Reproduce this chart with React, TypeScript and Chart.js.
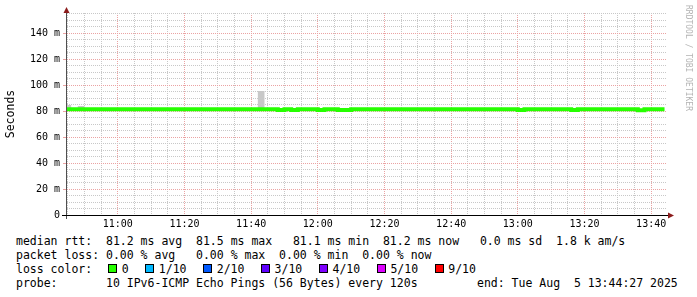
import React, { useEffect, useRef } from "react";
import { Chart, registerables } from "chart.js";

Chart.register(...registerables);

const FONT = "'DejaVu Sans Mono', monospace";

// ---- time axis (minutes since midnight) ----
const VIEW_START_MIN = 10 * 60 + 44 + 27 / 60; // 10:44:27
const VIEW_END_MIN = 13 * 60 + 44 + 27 / 60; // 13:44:27
const FIRST_STEP_MIN = 10 * 60 + 44; // first 2-minute interval starts 10:44
const STEP_MIN = 2;

const xGridMinutes = [
  645, 650, 655, 660, 665, 670, 675, 680, 685, 690, 695, 700, 705, 710, 715, 720, 725, 730,
  735, 740, 745, 750, 755, 760, 765, 770, 775, 780, 785, 790, 795, 800, 805, 810, 815, 820,
];
const xLabelMinutes = [660, 680, 700, 720, 740, 760, 780, 800, 820];

// ---- value axis (milliseconds) ----
const Y_MAX = 155.4;
const yGridValues = [
  0, 5, 10, 15, 20, 25, 30, 35, 40, 45, 50, 55, 60, 65, 70, 75, 80, 85, 90, 95, 100, 105,
  110, 115, 120, 125, 130, 135, 140, 145, 150, 155,
];
const yLabelValues = [0, 20, 40, 60, 80, 100, 120, 140];

// ---- series (one value per 2-minute interval, 10:44 .. 13:42) ----
const medianRtt = [
  81.4, 81.4, 81.4, 81.4, 81.4, 81.4, 81.4, 81.4, 81.4, 81.4,
  81.4, 81.4, 81.4, 81.4, 81.4, 81.4, 81.4, 81.4, 81.4, 81.4,
  81.4, 81.4, 81.4, 81.4, 81.4, 81.4, 81.4, 81.4, 81.4, 81.4,
  81.4, 81.4, 80.8, 81.4, 80.8, 81.4, 81.4, 81.4, 80.8, 81.4,
  81.4, 80.8, 80.8, 81.4, 81.4, 81.4, 81.4, 81.4, 81.4, 81.4,
  81.4, 81.4, 81.4, 81.4, 81.4, 81.4, 81.4, 81.4, 81.4, 81.4,
  81.4, 81.4, 81.4, 81.4, 81.4, 81.4, 81.4, 81.4, 80.8, 81.4,
  81.4, 81.4, 81.4, 81.4, 81.4, 81.4, 80.8, 81.4, 81.4, 81.4,
  81.4, 81.4, 81.4, 81.4, 81.4, 81.4, 80.5, 81.4, 81.4, 81.4,
];
const smokeLow = [
  81.0, 81.0, 81.0, 81.0, 81.0, 81.0, 81.0, 81.0, 81.0, 81.0,
  81.0, 81.0, 81.0, 81.0, 81.0, 81.0, 81.0, 81.0, 81.0, 81.0,
  81.0, 81.0, 81.0, 81.0, 81.0, 81.0, 81.0, 81.0, 81.0, 81.0,
  81.0, 81.0, 80.8, 81.0, 80.8, 81.0, 81.0, 81.0, 80.8, 81.0,
  81.0, 80.8, 80.8, 81.0, 81.0, 81.0, 81.0, 81.0, 81.0, 81.0,
  81.0, 81.0, 81.0, 81.0, 81.0, 81.0, 81.0, 81.0, 81.0, 81.0,
  81.0, 81.0, 81.0, 81.0, 81.0, 81.0, 81.0, 81.0, 80.8, 81.0,
  81.0, 81.0, 81.0, 81.0, 81.0, 81.0, 80.8, 81.0, 81.0, 81.0,
  81.0, 81.0, 81.0, 81.0, 81.0, 81.0, 80.6, 81.0, 81.0, 81.0,
];
const smokeHigh = [
  84.6, 81.8, 83.8, 81.8, 81.8, 81.8, 81.8, 81.8, 81.8, 81.8,
  81.8, 81.8, 81.8, 81.8, 81.8, 81.8, 81.8, 81.8, 81.8, 81.8,
  81.8, 81.8, 81.8, 81.8, 81.8, 81.8, 81.8, 81.8, 81.8, 95.4,
  81.8, 81.8, 81.2, 81.8, 81.2, 81.8, 81.8, 81.8, 81.2, 81.8,
  81.8, 81.2, 81.2, 81.8, 81.8, 81.8, 81.8, 81.8, 81.8, 81.8,
  81.8, 81.8, 81.8, 81.8, 81.8, 81.8, 81.8, 81.8, 81.8, 81.8,
  81.8, 81.8, 81.8, 81.8, 81.8, 81.8, 81.8, 81.8, 81.2, 81.8,
  81.8, 81.8, 81.8, 81.8, 81.8, 81.8, 81.2, 81.8, 81.8, 81.8,
  81.8, 81.8, 81.8, 81.8, 81.8, 81.8, 80.9, 81.8, 81.8, 81.8,
];

// ---- legend texts ----
const rttLegend = "median rtt:  81.2 ms avg  81.5 ms max   81.1 ms min  81.2 ms now   0.0 ms sd  1.8 k am/s";
const lossLegend = "packet loss: 0.00 % avg   0.00 % max  0.00 % min  0.00 % now";
const lossLevels = ["0", "1/10", "2/10", "3/10", "4/10", "5/10", "9/10"];
const lossColors = ["#26ff00", "#00b8ff", "#0059ff", "#5e00ff", "#7e00ff", "#dd00ff", "#ff0000"];
const probeText = "10 IPv6-ICMP Echo Pings (56 Bytes) every 120s";
const endText = "end: Tue Aug  5 13:44:27 2025";

const MINOR = "#c8c8c8";
const MAJOR = "#eba3a3";
const ARROW = "#8c1c1c";

// each value holds from its interval start to the next interval start
const toPoints = (vals: number[]) =>
  [...vals, vals[vals.length - 1]].map((v, i) => ({ x: FIRST_STEP_MIN + STEP_MIN * i, y: v }));

const fmtTime = (m: number) => `${Math.floor(m / 60)}:${String(Math.round(m % 60)).padStart(2, "0")}`;

const axisArrows = {
  id: "axisArrows",
  afterDraw(chart: any) {
    const { ctx, chartArea } = chart;
    const { left, right, bottom, top } = chartArea;
    ctx.save();
    ctx.strokeStyle = "#505050";
    ctx.lineWidth = 1;
    ctx.beginPath();
    ctx.moveTo(left + 0.5, top - 2);
    ctx.lineTo(left + 0.5, bottom + 4);
    ctx.stroke();
    ctx.strokeStyle = "#000";
    ctx.beginPath();
    ctx.moveTo(left - 4, bottom + 0.5);
    ctx.lineTo(right + 3, bottom + 0.5);
    ctx.stroke();
    ctx.fillStyle = ARROW;
    ctx.beginPath();
    ctx.moveTo(left + 0.5, top - 6);
    ctx.lineTo(left - 2.5, top);
    ctx.lineTo(left + 3.5, top);
    ctx.closePath();
    ctx.fill();
    ctx.beginPath();
    ctx.moveTo(right + 8, bottom + 0.5);
    ctx.lineTo(right + 2, bottom - 2.5);
    ctx.lineTo(right + 2, bottom + 3.5);
    ctx.closePath();
    ctx.fill();
    ctx.restore();
  },
};

export default function App() {
  const canvasRef = useRef<HTMLCanvasElement>(null);

  useEffect(() => {
    const canvas = canvasRef.current;
    if (!canvas) return;
    const chart = new Chart(canvas, {
      type: "line",
      data: {
        datasets: [
          {
            label: "median rtt",
            data: toPoints(medianRtt),
            borderColor: lossColors[0],
            borderWidth: 4,
            borderCapStyle: "butt",
            borderJoinStyle: "miter",
            stepped: "before",
            pointRadius: 0,
            fill: false,
          },
          {
            label: "smoke low",
            data: toPoints(smokeLow),
            borderWidth: 0,
            borderColor: "rgba(0,0,0,0)",
            stepped: "before",
            pointRadius: 0,
            fill: false,
          },
          {
            label: "smoke high",
            data: toPoints(smokeHigh),
            borderWidth: 0,
            borderColor: "rgba(0,0,0,0)",
            backgroundColor: "#c8c8c8",
            stepped: "before",
            pointRadius: 0,
            fill: "-1",
          },
        ],
      },
      options: {
        responsive: false,
        maintainAspectRatio: false,
        animation: false,
        devicePixelRatio: 1,
        events: [],
        layout: { padding: { left: 0, top: 13, right: 31, bottom: 0 } },
        plugins: {
          legend: { display: false },
          tooltip: { enabled: false },
          title: { display: false },
        },
        scales: {
          x: {
            type: "linear",
            min: VIEW_START_MIN,
            max: VIEW_END_MIN,
            afterBuildTicks: (axis: any) => {
              axis.ticks = xGridMinutes.map((v) => ({ value: v }));
            },
            afterFit: (axis: any) => {
              axis.height = 15;
            },
            ticks: {
              autoSkip: false,
              maxRotation: 0,
              padding: 3,
              color: "#000",
              font: { family: FONT, size: 10 },
              callback: (v: any) => (xLabelMinutes.includes(Number(v)) ? fmtTime(Number(v)) : ""),
            },
            grid: {
              drawTicks: false,
              lineWidth: 1,
              color: (c: any) => {
                const v = c.tick ? c.tick.value : -1;
                return xLabelMinutes.includes(v) ? MAJOR : MINOR;
              },
            },
            border: { display: true, color: "#000", width: 1, dash: [1, 1] },
          },
          y: {
            type: "linear",
            min: 0,
            max: Y_MAX,
            afterBuildTicks: (axis: any) => {
              axis.ticks = yGridValues.map((v) => ({ value: v }));
            },
            afterFit: (axis: any) => {
              axis.width = 66;
            },
            ticks: {
              autoSkip: false,
              padding: 3,
              color: "#000",
              font: { family: FONT, size: 10 },
              callback: (v: any) => {
                const n = Number(v);
                if (!yLabelValues.includes(n)) return "";
                return n === 0 ? "0" : `${n} m`;
              },
            },
            grid: {
              drawTicks: true,
              tickLength: 3,
              lineWidth: 1,
              color: (c: any) => {
                const v = c.tick ? c.tick.value : -1;
                if (v === 0) return "rgba(0,0,0,0)";
                return yLabelValues.includes(v) ? MAJOR : MINOR;
              },
              tickColor: (c: any) => {
                const v = c.tick ? c.tick.value : -1;
                if (v === 0) return "rgba(0,0,0,0)";
                return yLabelValues.includes(v) ? MAJOR : "rgba(0,0,0,0)";
              },
            },
            border: { display: true, color: "#505050", width: 1, dash: [1, 1] },
            title: {
              display: true,
              text: "Seconds",
              color: "#000",
              font: { family: FONT, size: 11.5 },
              padding: { top: 4, bottom: 0 },
            },
          },
        },
      },
      plugins: [axisArrows],
    } as any);
    return () => chart.destroy();
  }, []);

  const lineStyle: React.CSSProperties = {
    position: "absolute",
    left: 16,
    whiteSpace: "pre",
    fontSize: "11.5px",
    lineHeight: "14px",
    height: 14,
  };

  return (
    <div
      style={{
        position: "absolute",
        left: 0,
        top: 0,
        width: 697,
        height: 297,
        background: "#fff",
        overflow: "hidden",
        fontFamily: FONT,
        color: "#000",
      }}
    >
      <canvas
        ref={canvasRef}
        width={697}
        height={230}
        style={{ position: "absolute", left: 0, top: 0, width: 697, height: 230 }}
      />
      <div
        style={{
          position: "absolute",
          left: 684,
          top: 5,
          writingMode: "vertical-rl",
          fontSize: "8px",
          lineHeight: "8px",
          color: "#b4b4b4",
          whiteSpace: "pre",
        }}
      >
        RRDTOOL / TOBI OETIKER
      </div>
      <div style={{ ...lineStyle, top: 234 }}>{rttLegend}</div>
      <div style={{ ...lineStyle, top: 248 }}>{lossLegend}</div>
      <div style={{ ...lineStyle, top: 262 }}>loss color:</div>
      <div style={{ position: "absolute", left: 108, top: 262, height: 14, display: "flex", alignItems: "flex-start" }}>
        {lossLevels.map((lv, i) => (
          <div key={lv} style={{ display: "flex", alignItems: "flex-start", marginRight: 16.5 }}>
            <div
              style={{
                width: 9,
                height: 9,
                boxSizing: "border-box",
                border: "1px solid #000",
                background: lossColors[i],
                marginTop: 2,
                marginRight: 4.7,
              }}
            />
            <span style={{ fontSize: "11.5px", lineHeight: "14px", whiteSpace: "pre" }}>{lv}</span>
          </div>
        ))}
      </div>
      <div style={{ ...lineStyle, top: 276 }}>probe:</div>
      <div style={{ ...lineStyle, left: 106, top: 276 }}>{probeText}</div>
      <div style={{ ...lineStyle, left: 477, top: 276 }}>{endText}</div>
    </div>
  );
}
